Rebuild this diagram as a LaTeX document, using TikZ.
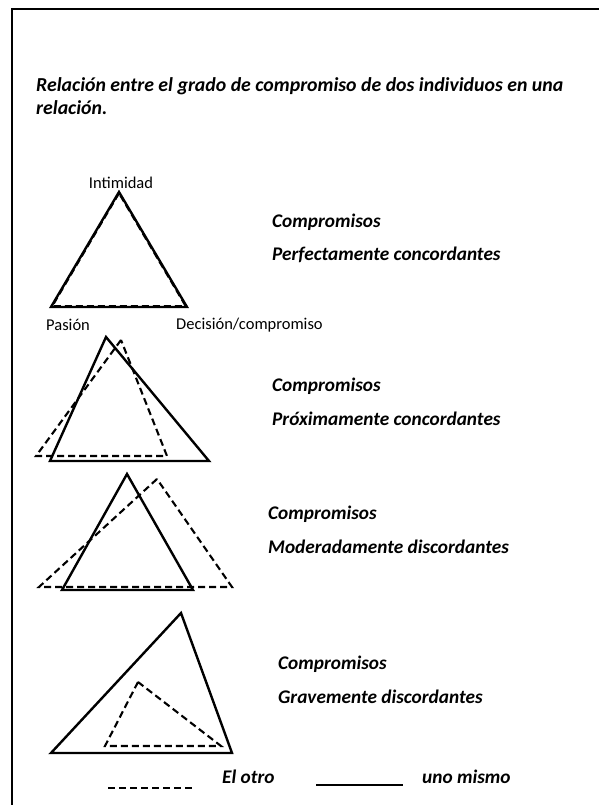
\documentclass[tikz,border=0pt]{standalone}
\usepackage{fontspec}
\setmainfont{Carlito}
\usetikzlibrary{positioning}

\begin{document}
\begin{tikzpicture}[x=1pt,y=-1pt,
	solido/.style={line width=2.4pt,line join=miter},
	otro/.style={line width=2.1pt,dash pattern=on 7pt off 4pt},
	titulo/.style={font=\fontsize{19.3}{23}\selectfont\bfseries\itshape,anchor=west,inner sep=0pt,align=left},
	vertice/.style={font=\fontsize{16.5}{20}\selectfont,inner sep=0pt}]
	\useasboundingbox (0,0) rectangle (599,805);
	\draw [line width=2pt] (12,805) -- (12,9) -- (599,9);

	\node[titulo,font=\fontsize{19.8}{23}\selectfont\bfseries\itshape] (enunciado) at (36,96) {Relación entre el grado de compromiso de dos individuos en una\\relación.};

	% perfectamente concordantes
	\draw [solido] (119,192) -- (51,307) -- (187,307) -- cycle;
	\draw [otro,line width=1.8pt] (119,193.5) -- (52.5,306) -- (185.5,306) -- cycle;
	\node[vertice] (intimidad) at (121,183) {Intimidad};
	\node[vertice,anchor=west] (pasion) at (46,325) {Pasión};
	\node[vertice,anchor=west] (decision) at (176,325) {Decisión/compromiso};

	% proximamente concordantes
	\draw [solido] (106,337) -- (50,461) -- (209,461) -- cycle;
	\draw [otro] (121,340) -- (36,456) -- (167,456) -- cycle;

	% moderadamente discordantes
	\draw [solido] (127,474) -- (62,590) -- (193,590) -- cycle;
	\draw [otro] (157,479) -- (39,587) -- (232,587) -- cycle;

	% gravemente discordantes
	\draw [solido] (181,613) -- (51,753) -- (232,753) -- cycle;
	\draw [otro] (138,682) -- (105,746) -- (221,746) -- cycle;

	\foreach \i/\x/\y/\tipo in {1/272/222/Perfectamente concordantes,
			2/272/386/Próximamente concordantes,
			3/268/514/Moderadamente discordantes,
			4/278/664/Gravemente discordantes} {
		\node[titulo] (comp\i) at (\x,\y) {Compromisos};
		\node[titulo] (tipo\i) at (\x,\y+33) {\tipo};
	}

	% leyenda
	\node[titulo] (elotro) at (222,777) {El otro};
	\node[titulo] (unomismo) at (422,777) {uno mismo};
	\draw [otro] (108,788) -- (195,788);
	\draw [line width=1.3pt] (316,785) -- (403,785);
\end{tikzpicture}
\end{document}
